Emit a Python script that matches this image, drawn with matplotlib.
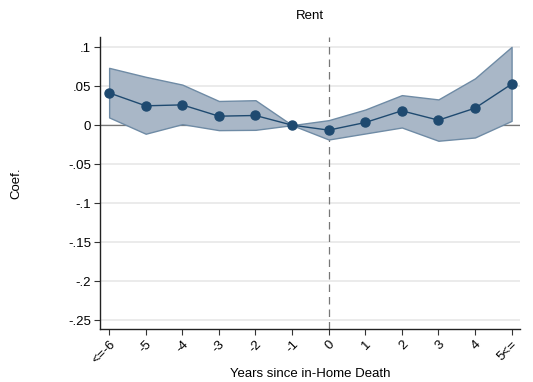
import numpy as np
import matplotlib
matplotlib.use("Agg")
import matplotlib.pyplot as plt

plt.rcParams['font.family'] = ['Liberation Sans', 'DejaVu Sans']

# event time and estimates
years = [-6, -5, -4, -3, -2, -1, 0, 1, 2, 3, 4, 5]
xlabels = ['<=-6', '-5', '-4', '-3', '-2', '-1', '0', '1', '2', '3', '4', '5<=']
coef = [0.0414, 0.0248, 0.026, 0.0115, 0.0124, 0.0, -0.0064, 0.0034, 0.0184, 0.0064, 0.0218, 0.0526]
ci_hi = [0.0735, 0.062, 0.052, 0.031, 0.032, 0.0, 0.0064, 0.020, 0.0385, 0.033, 0.060, 0.1004]
ci_lo = [0.0099, -0.011, 0.0013, -0.0064, -0.006, 0.0, -0.0184, -0.0107, -0.003, -0.020, -0.0158, 0.0055]
yticks = [0.1, 0.05, 0, -0.05, -0.1, -0.15, -0.2, -0.25]
ylabels = ['.1', '.05', '0', '-.05', '-.1', '-.15', '-.2', '-.25']

fig = plt.figure(figsize=(5.33, 3.82), dpi=100)
ax = fig.add_axes([0.1876, 0.1387, 0.788, 0.7643])

# gridlines
for t in yticks:
    ax.axhline(t, color='#e8e8e8', lw=1.2, zorder=0)
ax.axhline(0, color='#777777', lw=0.9, zorder=1)
ax.axvline(0, color='#777777', lw=0.9, ls=(0, (6, 4)), zorder=1)

ax.fill_between(years, ci_lo, ci_hi, facecolor='#a9b7c7', edgecolor='#6f8ba5', lw=1.0, zorder=2)
ax.plot(years, coef, color='#1f4a70', lw=1.0, marker='o', ms=6.5, zorder=3)

ax.set_xlim(-6.25, 5.23)
ax.set_ylim(-0.2615, 0.113)
ax.set_yticks(yticks)
ax.set_yticklabels(ylabels, fontsize=9.5)
ax.set_xticks(years)
ax.set_xticklabels(xlabels, fontsize=9.5, rotation=45, ha='right', rotation_mode='anchor')
ax.tick_params(axis='both', length=4, width=0.8, color='#333333', pad=2.5)

for s in ['top', 'right']:
    ax.spines[s].set_visible(False)
for s in ['left', 'bottom']:
    ax.spines[s].set_color('#222222')
    ax.spines[s].set_linewidth(1.0)

ax.set_title('Rent', fontsize=9.5, pad=13)
ax.set_ylabel('Coef.', fontsize=9.5, va='center')
ax.yaxis.set_label_coords(-0.2, 0.5)
ax.set_xlabel('Years since in-Home Death', fontsize=9.5, va='center')
ax.xaxis.set_label_coords(0.5, -0.155)

fig.savefig('out.png', dpi=100)
